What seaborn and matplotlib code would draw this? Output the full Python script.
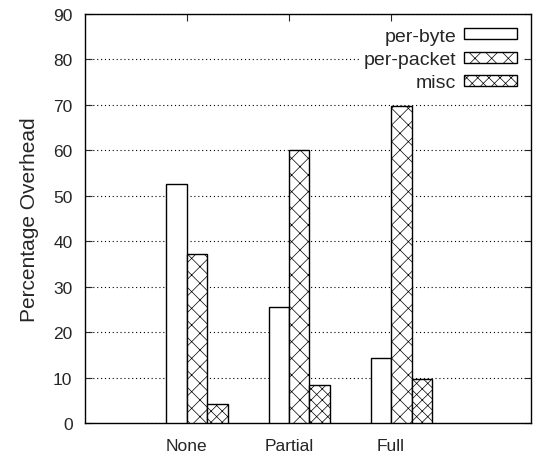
import numpy as np
import pandas as pd
import matplotlib
matplotlib.use("Agg")
import matplotlib.pyplot as plt
import matplotlib.patches as mpatches
import seaborn as sns

modes = ["None", "Partial", "Full"]
kinds = ["per-byte", "per-packet", "misc"]
per_byte = [52.6, 25.6, 14.2]
per_packet = [37.1, 60.0, 69.7]
misc = [4.1, 8.4, 9.7]
hatches = ["", "xx", "xxx"]

df = pd.DataFrame({
    "mode": modes * 3,
    "kind": [k for k in kinds for _ in modes],
    "overhead": per_byte + per_packet + misc,
})

sns.set_style("white")
plt.rcParams["font.family"] = ["Liberation Sans", "DejaVu Sans"]
plt.rcParams["hatch.linewidth"] = 0.5

fig, ax = plt.subplots(figsize=(5.42, 4.56), dpi=100)
fig.subplots_adjust(left=85 / 542, right=531 / 542, top=1 - 15 / 456, bottom=1 - 424 / 456)

sns.barplot(data=df, x="mode", y="overhead", hue="kind", order=modes, hue_order=kinds,
            palette=["white"] * 3, width=0.6, edgecolor="black", linewidth=1.0,
            legend=False, ax=ax, zorder=3)
for cont, h in zip(ax.containers, hatches):
    for p in cont.patches:
        p.set_hatch(h)

ax.set_ylim(0, 90)
ax.set_yticks(np.arange(0, 91, 10))
ax.set_xlim(-1.098, 3.27)
ax.set_xticks(np.arange(len(modes)) - 0.1, modes)
ax.set_xlabel("")
ax.set_ylabel("Percentage Overhead", fontsize=15, labelpad=10)
ax.tick_params(axis="both", direction="in", length=5, width=0.8, labelsize=12.5,
               top=True, right=True, left=True, bottom=True)
ax.tick_params(axis="y", pad=9)
ax.tick_params(axis="x", pad=11)
ax.yaxis.grid(True, linestyle=(0, (1, 2.5)), color="black", linewidth=0.8, zorder=0)
for s in ax.spines.values():
    s.set_visible(True)
    s.set_color("black")
    s.set_linewidth(1.0)

handles = [mpatches.Patch(facecolor="white", edgecolor="black", hatch=h, label=k)
           for k, h in zip(kinds, hatches)]
leg = ax.legend(handles=handles, loc="upper right", markerfirst=False, fontsize=14,
                handlelength=2.75, handleheight=0.5, labelspacing=0.33, handletextpad=0.4,
                borderaxespad=0.45, borderpad=0.25, frameon=True, fancybox=False)
leg.get_frame().set_edgecolor("none")
leg.get_frame().set_facecolor("white")
leg.get_frame().set_alpha(1)
leg.set_zorder(5)

fig.savefig("out.png", dpi=100)
